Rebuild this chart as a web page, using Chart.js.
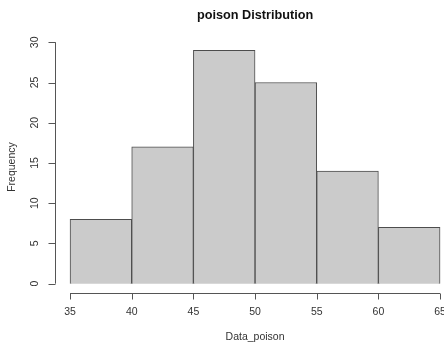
<!DOCTYPE html>
<html>
<head>
<meta charset="utf-8">
<script src="https://cdn.jsdelivr.net/npm/chart.js"></script>
<style>
  html, body { margin: 0; padding: 0; background: #fff; }
  #wrap { width: 444px; height: 344px; }
</style>
</head>
<body>
<div id="wrap"><canvas id="hist"></canvas></div>
<script>
// bins of width 5, counts per bin
const binStarts = [35, 40, 45, 50, 55, 60];
const binWidth = 5;
const counts = [8, 17, 29, 25, 14, 7];
const xTicks = [35, 40, 45, 50, 55, 60, 65];
const yTicks = [0, 5, 10, 15, 20, 25, 30];
const chartTitle = 'poison Distribution';
const xLabel = 'Data_poison';
const yLabel = 'Frequency';

const ink = '#333333';
const labelFont = '10.5px "Liberation Sans", Arial, sans-serif';

// base-graphics style axes, drawn from the chart's own scales
const rAxes = {
    id: 'rAxes',
    afterDraw(chart) {
        const ctx = chart.ctx;
        const x = chart.scales.x, y = chart.scales.y;
        const area = chart.chartArea;
        ctx.save();
        ctx.strokeStyle = '#555555';
        ctx.lineWidth = 1;
        ctx.fillStyle = ink;
        ctx.font = labelFont;

        // y axis
        const ax = Math.round(area.left) + 0.5;
        ctx.beginPath();
        ctx.moveTo(ax, y.getPixelForValue(yTicks[0]));
        ctx.lineTo(ax, y.getPixelForValue(yTicks[yTicks.length - 1]));
        yTicks.forEach(v => {
            const py = Math.round(y.getPixelForValue(v)) + 0.5;
            ctx.moveTo(ax, py);
            ctx.lineTo(ax - 7, py);
        });
        ctx.stroke();
        ctx.textAlign = 'center';
        ctx.textBaseline = 'middle';
        yTicks.forEach(v => {
            ctx.save();
            ctx.translate(35, y.getPixelForValue(v));
            ctx.rotate(-Math.PI / 2);
            ctx.fillText(String(v), 0, 0);
            ctx.restore();
        });

        // x axis
        const ay = Math.round(area.bottom) + 0.5;
        ctx.beginPath();
        ctx.moveTo(x.getPixelForValue(xTicks[0]), ay);
        ctx.lineTo(x.getPixelForValue(xTicks[xTicks.length - 1]), ay);
        xTicks.forEach(v => {
            const px = Math.round(x.getPixelForValue(v)) + 0.5;
            ctx.moveTo(px, ay);
            ctx.lineTo(px, ay + 6);
        });
        ctx.stroke();
        xTicks.forEach(v => {
            ctx.fillText(String(v), x.getPixelForValue(v), 312);
        });

        // titles
        const midX = (x.getPixelForValue(xTicks[0]) + x.getPixelForValue(xTicks[xTicks.length - 1])) / 2;
        ctx.fillText(xLabel, midX, 337);
        ctx.save();
        ctx.translate(12, (area.top + area.bottom) / 2);
        ctx.rotate(-Math.PI / 2);
        ctx.fillText(yLabel, 0, 0);
        ctx.restore();

        ctx.font = 'bold 12.7px "Liberation Sans", Arial, sans-serif';
        ctx.fillStyle = '#111111';
        ctx.fillText(chartTitle, midX, 15);
        ctx.restore();
    }
};

new Chart(document.getElementById('hist'), {
    type: 'bar',
    data: {
        datasets: [{
            data: binStarts.map((s, i) => ({ x: s + binWidth / 2, y: counts[i] })),
            backgroundColor: '#cbcbcb',
            borderColor: '#4d4d4d',
            borderWidth: 1,
            borderSkipped: 'bottom',
            barPercentage: 1,
            categoryPercentage: 1
        }]
    },
    options: {
        responsive: true,
        maintainAspectRatio: false,
        animation: false,
        layout: { padding: { left: 55, top: 41, right: 0, bottom: 51 } },
        plugins: {
            legend: { display: false },
            title: { display: false },
            tooltip: { enabled: false }
        },
        scales: {
            x: { type: 'linear', min: 33.78, max: 65.32, offset: false, display: false },
            y: { min: -1.16, max: 30.16, display: false }
        }
    },
    plugins: [rAxes]
});
</script>
</body>
</html>
